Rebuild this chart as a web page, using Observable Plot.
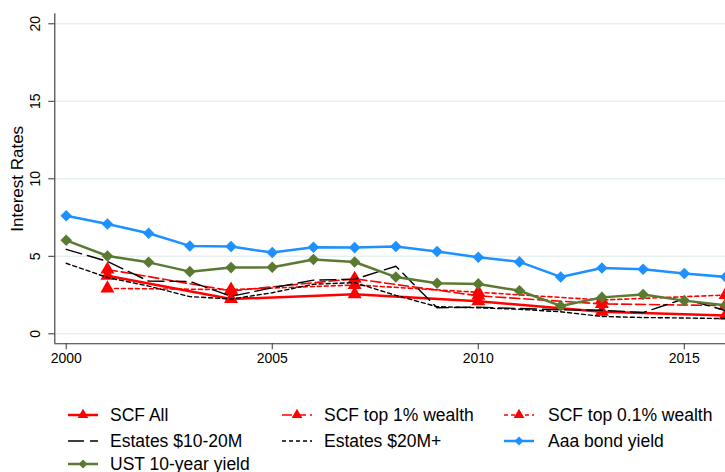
<!DOCTYPE html>
<html><head><meta charset="utf-8">
<script src="https://cdn.jsdelivr.net/npm/d3@7"></script>
<script src="https://cdn.jsdelivr.net/npm/@observablehq/plot@0.6"></script>
<style>
body{margin:0;background:#fff;font-family:"Liberation Sans",Arial,Helvetica,sans-serif;}
#wrap{position:relative;width:725px;height:472px;overflow:hidden;background:#fff;}
#legend{position:absolute;left:0;top:380px;width:725px;height:92px;}
.item{position:absolute;display:flex;align-items:center;font-size:17.5px;color:#000;white-space:nowrap;height:20px;}
.item svg{display:block;}
</style></head><body>
<div id="wrap"><div id="chart"></div><div id="legend"></div></div>
<script>
// ---- data ----
const years = [2000,2001,2002,2003,2004,2005,2006,2007,2008,2009,2010,2011,2012,2013,2014,2015,2016];
const aaaBond = [7.62,7.08,6.49,5.67,5.63,5.24,5.59,5.56,5.63,5.31,4.94,4.64,3.67,4.24,4.16,3.89,3.67];
const ust10 = [6.03,5.02,4.61,4.01,4.27,4.29,4.80,4.63,3.66,3.26,3.22,2.78,1.80,2.35,2.54,2.14,1.84];
const estates10to20 = [5.45,4.67,3.40,3.38,2.42,2.97,3.46,3.52,4.36,1.68,1.72,1.63,1.55,1.52,1.37,2.26,1.50];
const estates20plus = [4.55,3.63,3.08,2.40,2.24,2.65,3.20,3.30,2.48,1.75,1.68,1.58,1.42,1.12,1.05,1.02,0.98];
const scfYears = [2001,2004,2007,2010,2013,2016];
const scfAll = [3.74,2.24,2.55,2.10,1.43,1.18];
const scfTop1 = [4.15,2.77,3.55,2.45,1.93,1.82];
const scfTop01 = [2.93,2.85,3.15,2.68,2.18,2.50];
const xTicks = [2000,2005,2010,2015];
const yTicks = [0,5,10,15,20];
const yTitle = "Interest Rates";
const legendLabels = ["SCF All","SCF top 1% wealth","SCF top 0.1% wealth","Estates $10-20M","Estates $20M+","Aaa bond yield","UST 10-year yield"];

// ---- styles ----
const RED = "#ff0000", BLUE = "#1e90ff", GREEN = "#5a7a32", BLACK = "#000";
const series = [
  {label: legendLabels[0], xs: scfYears, ys: scfAll, stroke: RED, width: 2.5, dash: null, symbol: "triangle"},
  {label: legendLabels[1], xs: scfYears, ys: scfTop1, stroke: RED, width: 1.6, dash: "10,4", symbol: "triangle"},
  {label: legendLabels[2], xs: scfYears, ys: scfTop01, stroke: RED, width: 1.6, dash: "4,3", symbol: "triangle"},
  {label: legendLabels[3], xs: years, ys: estates10to20, stroke: BLACK, width: 1.4, dash: "16,6", symbol: null},
  {label: legendLabels[4], xs: years, ys: estates20plus, stroke: BLACK, width: 1.4, dash: "4,3", symbol: null},
  {label: legendLabels[5], xs: years, ys: aaaBond, stroke: BLUE, width: 2.5, dash: null, symbol: "diamond2"},
  {label: legendLabels[6], xs: years, ys: ust10, stroke: GREEN, width: 2.5, dash: null, symbol: "diamond2"}
];

const W = 725, H = 380;
const xDomain = [1999.723, 2016];
const yDomain = [-0.645, 20.645];
const rows = (xs, ys) => xs.map((x, i) => ({x, y: ys[i]}));

const seriesMarks = series.flatMap(s => {
  const d = rows(s.xs, s.ys);
  const m = [Plot.line(d, {x: "x", y: "y", stroke: s.stroke, strokeWidth: s.width, strokeDasharray: s.dash || undefined})];
  if (s.symbol) m.push(Plot.dot(d, {x: "x", y: "y", symbol: s.symbol, r: 5.2, fill: s.stroke}));
  return m;
});

const chart = Plot.plot({
  width: W, height: H,
  marginLeft: 54.3, marginRight: 0, marginTop: 13.3, marginBottom: H - 343.3,
  style: {fontFamily: "Liberation Sans, Arial, Helvetica, sans-serif", fontSize: "14px", background: "white", color: "#000"},
  x: {domain: xDomain, axis: null},
  y: {domain: yDomain, axis: null},
  marks: [
    Plot.gridY(yTicks, {stroke: "#e6eff0", strokeOpacity: 1, strokeWidth: 1.5}),
    Plot.ruleX([xDomain[0]], {stroke: "#333", strokeWidth: 1.1}),
    Plot.ruleY([yDomain[0]], {stroke: "#333", strokeWidth: 1.1}),
    Plot.axisY(yTicks, {tickSize: 6, tickFormat: () => "", stroke: "#333", label: null}),
    Plot.text(yTicks, {y: d => d, frameAnchor: "left", dx: -19, rotate: -90, text: d => String(d), fontSize: 14, textAnchor: "middle", fill: "#000"}),
    Plot.text([yTitle], {frameAnchor: "left", dx: -37, rotate: -90, text: d => d, fontSize: 17, textAnchor: "middle", fill: "#000"}),
    Plot.axisX(xTicks, {tickSize: 6, tickPadding: 3, tickFormat: d => String(d), fontSize: 14, label: null, stroke: "#333"}),
    ...seriesMarks
  ]
});
document.getElementById("chart").appendChild(chart);

// ---- legend ----
const colX = [68, 282, 504];
const colGap = [12, 12, 14];
const rowY = [35, 61, 84];
const legend = document.getElementById("legend");
series.forEach((s, i) => {
  const col = i % 3, row = Math.floor(i / 3);
  const div = document.createElement("div");
  div.className = "item";
  div.style.left = colX[col] + "px";
  div.style.top = (rowY[row] - 10) + "px";
  const ns = "http://www.w3.org/2000/svg";
  const svg = document.createElementNS(ns, "svg");
  svg.setAttribute("width", 30); svg.setAttribute("height", 20);
  svg.style.marginRight = colGap[col] + "px";
  const ln = document.createElementNS(ns, "line");
  ln.setAttribute("x1", 0); ln.setAttribute("x2", 30); ln.setAttribute("y1", 10); ln.setAttribute("y2", 10);
  ln.setAttribute("stroke", s.stroke); ln.setAttribute("stroke-width", s.width);
  if (s.dash) ln.setAttribute("stroke-dasharray", s.dash);
  svg.appendChild(ln);
  if (s.symbol) {
    const p = document.createElementNS(ns, "path");
    const sym = s.symbol === "triangle" ? d3.symbolTriangle : d3.symbolDiamond2;
    p.setAttribute("d", d3.symbol(sym, Math.PI * 4 * 4)());
    p.setAttribute("transform", "translate(15,10)");
    p.setAttribute("fill", s.stroke);
    svg.appendChild(p);
  }
  div.appendChild(svg);
  const t = document.createElement("span");
  t.textContent = s.label;
  div.appendChild(t);
  legend.appendChild(div);
});
</script>
</body></html>
